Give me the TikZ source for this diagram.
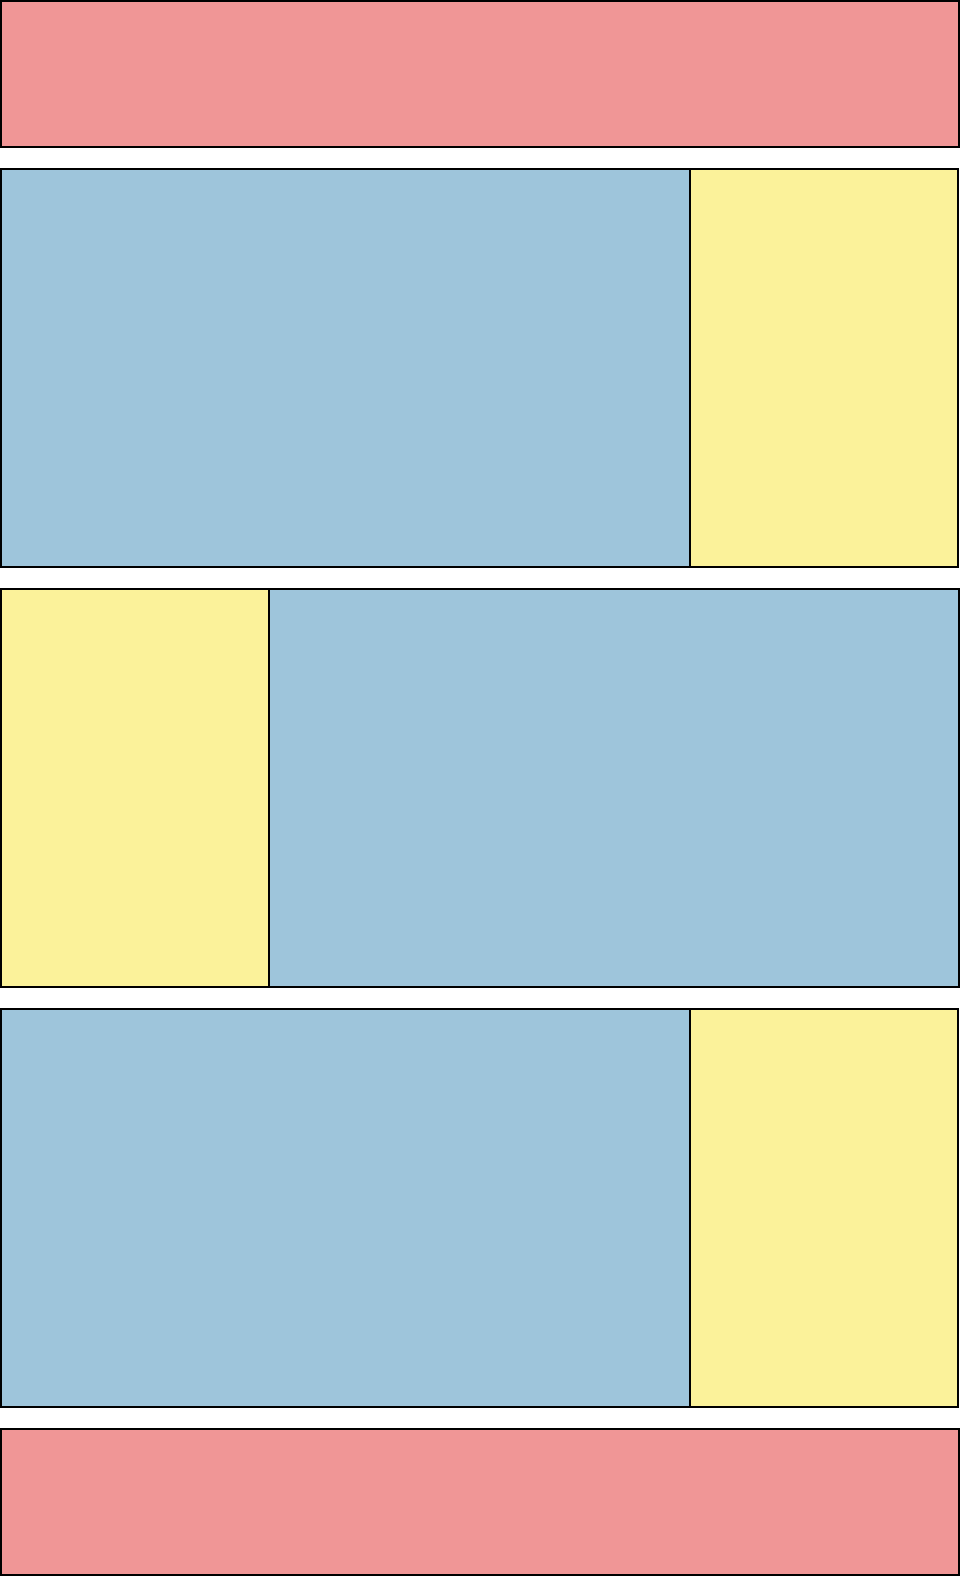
\documentclass[tikz,border=0pt]{standalone}
\definecolor{pinkc}{RGB}{240,150,150}
\definecolor{bluec}{RGB}{158,197,219}
\definecolor{yellowc}{RGB}{251,242,154}
\tikzset{
  panel/.style={draw=black, line width=1.2pt},
}
\begin{document}
\begin{tikzpicture}[x=1pt,y=-1pt]
\useasboundingbox (0,0) rectangle (960,1576);
\fill[white] (0,0) rectangle (960,1576);
% top band
\draw[panel, fill=pinkc] (1,1) rectangle (959,147);
% row 1
\draw[panel, fill=bluec] (1,169) rectangle (690,567);
\draw[panel, fill=yellowc] (690,169) rectangle (958,567);
% row 2
\draw[panel, fill=yellowc] (1,589) rectangle (269,987);
\draw[panel, fill=bluec] (269,589) rectangle (959,987);
% row 3
\draw[panel, fill=bluec] (1,1009) rectangle (690,1407);
\draw[panel, fill=yellowc] (690,1009) rectangle (958,1407);
% bottom band
\draw[panel, fill=pinkc] (1,1429) rectangle (959,1575);
\end{tikzpicture}
\end{document}
